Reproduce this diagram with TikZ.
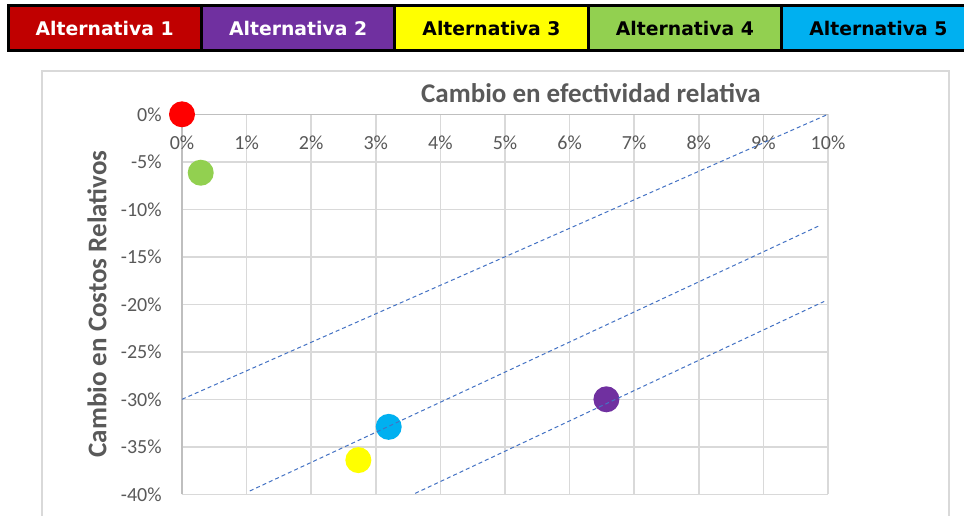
\documentclass[tikz,border=0pt]{standalone}
\usepackage{fontspec}
\setmainfont{Carlito}
\newfontfamily\tabfont{DejaVu Sans}
\usepackage{tkz-euclide}
\definecolor{altred}{HTML}{C00000}
\definecolor{altpurple}{HTML}{7030A0}
\definecolor{altyellow}{HTML}{FFFF00}
\definecolor{altgreen}{HTML}{92D050}
\definecolor{altblue}{HTML}{00B0F0}
\definecolor{dotred}{HTML}{FF0000}
\definecolor{gridgray}{HTML}{D9D9D9}
\definecolor{axisgray}{HTML}{BFBFBF}
\definecolor{tickgray}{HTML}{595959}
\definecolor{lineblue}{HTML}{4472C4}
\tikzset{altbox/.style={draw=black,line width=3pt,minimum width=193.4pt,minimum height=45pt,inner sep=0pt,
  font=\tabfont\bfseries\fontsize{18.8}{22}\selectfont},
  gridline/.style={gridgray,line width=1.5pt},
  axisline/.style={axisgray,line width=1.5pt},
  ticklabel/.style={inner sep=0pt,text=tickgray,font=\fontsize{20}{24}\selectfont},
  axtitle/.style={inner sep=0pt,text=tickgray,font=\bfseries\fontsize{27}{30}\selectfont},
  icerline/.style={lineblue,line width=1pt,dash pattern=on 4pt off 3pt}}

\begin{document}
\begin{tikzpicture}[x=1pt,y=-1pt,semithick]
\clip (0,0) rectangle (964,516);
\fill[white] (0,0) rectangle (964,516);
\foreach \i/\c/\t in {1/altred/white,2/altpurple/white,3/altyellow/black,4/altgreen/black,5/altblue/black}
  \node[altbox,fill=\c,text=\t] (alt\i) at ({8+193.4*(\i-0.5)},28.5) {Alternativa \i};
\draw[gridline] (42,71) rectangle (949,540);
\node[axtitle] (xtitle) at (591,93) {Cambio en efectividad relativa};
\node[axtitle,rotate=90] (ytitle) at (97,304) {Cambio en Costos Relativos};
\begin{scope}[shift={(182pt,-114.3pt)},x=64.6pt,y=9.5pt]
\foreach \k in {1,...,10} \draw[gridline] (\k,0) -- (\k,-40);
\foreach \k in {5,10,...,40} \draw[gridline] (0,-\k) -- (10,-\k);
\draw[axisline] (0,-40) -- (0,0) -- (10,0);
\foreach \k in {0,...,10} \node[ticklabel] (xt\k) at (\k,-3.0) {\k\%};
\foreach \k in {0,5,...,40} \node[ticklabel,anchor=east] (yt\k) at (-0.31,-\k) {\ifnum\k=0 0\else-\k\fi\%};
\tkzDefPoints{0/0/A1,6.57/-30/A2,2.73/-36.4/A3,0.29/-6.15/A4,3.2/-32.9/A5}
\tkzDefPoints{0/-30/P1,10/0/Q1,1.05/-39.65/P2,9.89/-11.65/Q2,3.61/-39.9/P3,9.94/-19.7/Q3}
\foreach \n/\c in {1/dotred,2/altpurple,3/altyellow,4/altgreen,5/altblue} \fill[\c] (A\n) circle (13pt);
\draw[icerline] (P1)--(Q1) (P2)--(Q2) (P3)--(Q3);
\end{scope}
\end{tikzpicture}
\end{document}
